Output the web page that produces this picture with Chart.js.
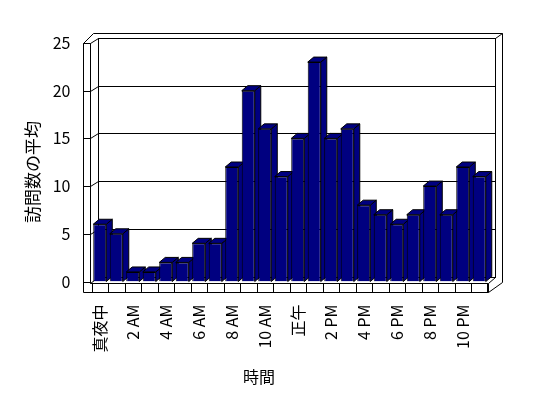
<!DOCTYPE html>
<html>
<head>
<meta charset="utf-8">
<script src="https://cdn.jsdelivr.net/npm/chart.js@4"></script>
<style>
  body { margin: 0; background: #fff; }
  canvas { display: block; }
</style>
</head>
<body>
<canvas id="visits" width="548" height="398"></canvas>
<script>
// hourly categories, only every second one gets a tick label
const categories = ['真夜中', '1 AM', '2 AM', '3 AM', '4 AM', '5 AM', '6 AM', '7 AM', '8 AM', '9 AM', '10 AM', '11 AM',
                    '正午', '1 PM', '2 PM', '3 PM', '4 PM', '5 PM', '6 PM', '7 PM', '8 PM', '9 PM', '10 PM', '11 PM'];
const visits = [6, 5, 1, 1, 2, 2, 4, 4, 12, 20, 16, 11, 15, 23, 15, 16, 8, 7, 6, 7, 10, 7, 12, 11];
const yTicks = [0, 5, 10, 15, 20, 25];
const yTitle = '訪問数の平均';
const xTitle = '時間';

const FONT = '"Noto Sans CJK JP", "Noto Sans", sans-serif';
const NAVY = '#000080';
const DX = 6, DY = 5;   // bar depth
const WX = 8, WY = 5;   // wall depth

function line(ctx, pts) {
  ctx.beginPath();
  ctx.moveTo(pts[0][0], pts[0][1]);
  for (let i = 1; i < pts.length; i++) ctx.lineTo(pts[i][0], pts[i][1]);
  ctx.stroke();
}

function poly(ctx, pts) {
  ctx.beginPath();
  ctx.moveTo(pts[0][0], pts[0][1]);
  for (let i = 1; i < pts.length; i++) ctx.lineTo(pts[i][0], pts[i][1]);
  ctx.closePath();
  ctx.fill();
  ctx.stroke();
}

const box3d = {
  id: 'box3d',
  beforeDatasetsDraw(chart) {
    const { ctx, chartArea: a, scales: { x, y } } = chart;
    const top = Math.round(y.getPixelForValue(25)) + 0.5;
    const fb = Math.round(a.bottom) + 10.5;     // floor front bottom
    const ft = Math.round(a.bottom) + 1.5;      // floor front top
    const fl = Math.round(a.left) - 8.5;        // left slab outer
    const fi = Math.round(a.left) - 1.5;        // left slab inner
    const fr = Math.round(a.right) + 0.5;
    const bl = fi + WX, br = fr + 7, bt = top - WY, bb = ft - 6;
    const ot = top - 10, orr = br + 7;

    ctx.save();
    ctx.strokeStyle = '#000';
    ctx.fillStyle = '#fff';
    ctx.lineWidth = 1;

    // back wall
    ctx.strokeRect(bl, bt, br - bl, bb - bt);
    line(ctx, [[fl, top], [fl + 10, ot], [orr, ot], [orr, ft - 1], [fr, fb]]);
    line(ctx, [[fi, top], [bl, bt]]);
    line(ctx, [[br, bt], [orr, ot]]);
    // left slab
    line(ctx, [[fl, fb], [fl, top], [fi, top], [fi, ft]]);
    line(ctx, [[fi, ft], [bl, bb]]);
    // floor slab
    line(ctx, [[fi, ft], [fr, ft], [fr, fb], [fl, fb]]);
    line(ctx, [[fr, ft], [br, bb]]);
    const n = categories.length;
    const step = (a.right - a.left) / n;
    for (let i = 0; i <= n; i++) {
      const px = Math.round(x.getPixelForValue(i) - step / 2) + 0.5;
      line(ctx, [[px, ft], [px, fb]]);
    }

    // gridlines on the back wall, ticks on the slab
    yTicks.forEach(v => {
      const py = Math.round(y.getPixelForValue(v)) + 0.5;
      line(ctx, [[fl, py], [fi, py]]);
      if (v > 0 && v < 25) line(ctx, [[fi, py], [bl, py - WY], [br, py - WY]]);
    });

    // bar tops and sides (fronts drawn by Chart.js afterwards)
    ctx.fillStyle = NAVY;
    chart.getDatasetMeta(0).data.forEach(bar => {
      const l = bar.x - bar.width / 2, r = bar.x + bar.width / 2;
      const t = bar.y, b = bar.base;
      poly(ctx, [[r, t], [r + DX, t - DY], [r + DX, b - DY], [r, b]]);
      poly(ctx, [[l, t], [l + DX, t - DY], [r + DX, t - DY], [r, t]]);
    });
    ctx.restore();
  },
  afterDraw(chart) {
    const { ctx } = chart;
    ctx.save();
    ctx.fillStyle = '#000';
    ctx.textAlign = 'center';
    ctx.textBaseline = 'middle';
    ctx.font = '16px ' + FONT;
    ctx.fillText(xTitle, 259, 377);
    ctx.font = '17px ' + FONT;
    ctx.translate(33, 172);
    ctx.rotate(-Math.PI / 2);
    ctx.fillText(yTitle, 0, 0);
    ctx.restore();
  }
};

new Chart(document.getElementById('visits'), {
  type: 'bar',
  data: {
    labels: categories,
    datasets: [{
      data: visits,
      backgroundColor: NAVY,
      borderColor: '#000',
      borderWidth: 1,
      barPercentage: 0.79,
      categoryPercentage: 1
    }]
  },
  options: {
    responsive: false,
    animation: false,
    devicePixelRatio: 1,
    layout: { padding: { top: 43, right: 60.5, bottom: 0, left: 0 } },
    plugins: {
      legend: { display: false },
      tooltip: { enabled: false }
    },
    scales: {
      x: {
        grid: { display: false, drawTicks: false },
        border: { display: false },
        afterFit(s) { s.height = 116.5; },
        ticks: {
          autoSkip: false,
          minRotation: 90,
          maxRotation: 90,
          padding: 23,
          color: '#000',
          font: { family: FONT, size: 16 },
          callback: (v, i) => (i % 2 ? '' : categories[i])
        }
      },
      y: {
        min: 0,
        max: 25,
        grid: { display: false, drawTicks: false },
        border: { display: false },
        afterFit(s) { s.width = 91.5; },
        afterBuildTicks(s) { s.ticks = yTicks.map(v => ({ value: v })); },
        ticks: {
          padding: 21,
          color: '#000',
          font: { family: FONT, size: 16 }
        }
      }
    }
  },
  plugins: [box3d]
});
</script>
</body>
</html>
